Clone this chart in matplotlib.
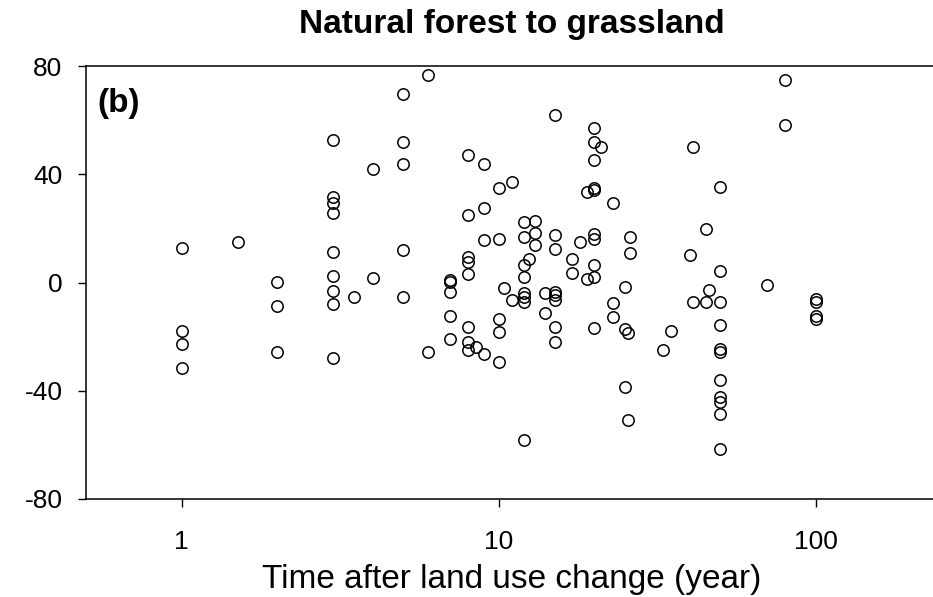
import numpy as np
import matplotlib
matplotlib.use('Agg')
import matplotlib.pyplot as plt
from matplotlib.ticker import FixedLocator, NullLocator

plt.rcParams['font.family'] = ['Liberation Sans', 'DejaVu Sans']

# time after land use change (year) and the matching change values (%)
years = ([1] * 4 + [1.5] + [2] * 3 + [3] * 9 + [3.5] + [4] * 2 + [5] * 5 + [6] * 2
         + [7] * 5 + [8] * 8 + [8.5] + [9] * 4 + [10] * 5 + [10.4] + [11] * 2
         + [12] * 8 + [12.5] + [13] * 3 + [14] * 2 + [15] * 8 + [17] * 2 + [18]
         + [19] * 2 + [20] * 10 + [21] + [23] * 3 + [25] * 3 + [25.5] * 2
         + [26] * 2 + [33] + [35] + [40] + [41] * 2 + [45] * 2 + [46]
         + [50] * 11 + [70] + [80] * 2 + [100] * 4)
change = [12.9, -17.8, -22.7, -31.7,
          14.9,
          0.2, -8.8, -25.7,
          52.7, 31.7, 29.3, 25.8, 11.4, 2.5, -3.0, -7.8, -27.8,
          -5.5,
          41.8, 1.5,
          69.5, 51.9, 43.9, 12.1, -5.5,
          76.6, -25.6,
          0.9, 0.1, -3.4, -12.5, -21.0,
          47.0, 25.1, 9.4, 7.5, 3.1, -16.3, -22.0, -24.9,
          -23.7,
          43.9, 27.5, 15.7, -26.5,
          35.0, 16.1, -13.6, -18.3, -29.4,
          -2.0,
          37.0, -6.5,
          22.4, 16.8, 6.4, 2.2, -4.0, -5.2, -7.3, -58.3,
          8.8,
          22.8, 18.2, 13.9,
          -3.8, -11.3,
          62.0, 17.7, 12.3, -3.5, -4.6, -6.5, -16.3, -21.9,
          8.8, 3.5,
          14.9,
          33.4, 1.2,
          57.0, 52.0, 45.2, 34.8, 34.2, 17.9, 16.2, 6.5, 2.2, -16.8,
          50.0,
          29.4, -7.5, -12.7,
          -1.8, -17.1, -38.7,
          -18.8, -50.8,
          16.9, 10.8,
          -25.1,
          -17.9,
          10.2,
          50.0, -7.3,
          19.8, -7.3,
          -2.8,
          35.4, 4.2, -7.3, -15.7, -24.6, -25.7, -36.0, -42.4, -44.3, -48.6, -61.5,
          -0.8,
          74.9, 58.2,
          -6.2, -7.3, -12.4, -13.6]

xticks = [1, 10, 100]
yticks = [-80, -40, 0, 40, 80]

W, H = 933, 597
fig = plt.figure(figsize=(W / 100, H / 100), dpi=100)
ax = fig.add_axes([86 / W, 1 - 499 / H, 1 - 86 / W, (499 - 66) / H])

ax.plot(years, change, 'o', ms=8.2, mfc='none', mec='black', mew=1.1)

ax.set_xscale('log')
ax.set_xlim(0.499, 234.4)
ax.set_ylim(-80, 80)
ax.xaxis.set_major_locator(FixedLocator(xticks))
ax.xaxis.set_minor_locator(NullLocator())
ax.set_xticklabels([str(t) for t in xticks])
ax.set_yticks(yticks)
ax.set_yticklabels([str(t) for t in yticks])
ax.tick_params(axis='both', direction='out', length=6, width=1, labelsize=19)
ax.tick_params(axis='x', pad=16)
ax.tick_params(axis='y', pad=11)
ax.spines['right'].set_visible(False)
for s in ['left', 'top', 'bottom']:
    ax.spines[s].set_linewidth(1.1)

fig.text(512 / W, 1 - 33 / H, 'Natural forest to grassland', fontsize=24,
         fontweight='bold', ha='center', va='baseline')
fig.text(512 / W, 1 - 588 / H, 'Time after land use change (year)',
         fontsize=24, ha='center', va='baseline')
fig.text(97 / W, 1 - 112 / H, '(b)', fontsize=24, fontweight='bold',
         ha='left', va='baseline')

fig.savefig('out.png', dpi=100)
